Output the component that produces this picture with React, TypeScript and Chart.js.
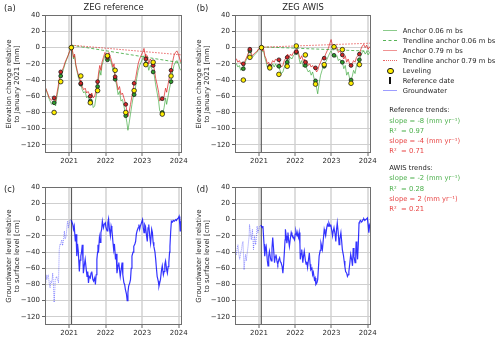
import React, { useEffect, useRef } from 'react';
import { Chart, registerables } from 'chart.js';

Chart.register(...registerables);

const FONT = "'DejaVu Sans', 'Liberation Sans', sans-serif";

// ---------- axes ----------
const xMin = 2020.34;
const xMax = 2024.09;
const yMin = -130;
const yMax = 40;
const referenceDate = 2021.065;
const yearTicks = [2021, 2022, 2023, 2024];
const levelTicks = [-120, -100, -80, -60, -40, -20, 0, 20, 40];

// ---------- panel (a) ZEG reference ----------
const anchorTimesA = [2020.34, 2020.40, 2020.46, 2020.52, 2020.56, 2020.59, 2020.63, 2020.66, 2020.70, 2020.74, 2020.77, 2020.81, 2020.85, 2020.89, 2020.93, 2020.97, 2021.01, 2021.06, 2021.09, 2021.12, 2021.15, 2021.18, 2021.22, 2021.26, 2021.30, 2021.32, 2021.36, 2021.40, 2021.44, 2021.48, 2021.52, 2021.56, 2021.58, 2021.62, 2021.66, 2021.70, 2021.74, 2021.78, 2021.81, 2021.84, 2021.87, 2021.90, 2021.94, 2021.98, 2022.02, 2022.05, 2022.09, 2022.12, 2022.16, 2022.20, 2022.23, 2022.26, 2022.30, 2022.34, 2022.38, 2022.42, 2022.46, 2022.50, 2022.55, 2022.58, 2022.61, 2022.64, 2022.68, 2022.72, 2022.75, 2022.78, 2022.82, 2022.85, 2022.89, 2022.93, 2022.97, 2023.01, 2023.05, 2023.08, 2023.10, 2023.14, 2023.18, 2023.22, 2023.26, 2023.30, 2023.33, 2023.37, 2023.41, 2023.45, 2023.48, 2023.52, 2023.56, 2023.60, 2023.64, 2023.67, 2023.71, 2023.75, 2023.79, 2023.83, 2023.87, 2023.91, 2023.95, 2023.99, 2024.03, 2024.06, 2024.09];
const anchorDeepA = [-48, -55, -62, -65, -63, -62, -66, -58, -48, -36, -30, -28, -24, -18, -14, -10, -5, 0, -3, -12, -8, -20, -28, -35, -40, -44, -48, -52, -50, -56, -54, -58, -60, -56, -62, -60, -52, -42, -30, -22, -28, -18, -12, -6, -8, -12, -6, -10, -16, -24, -20, -36, -42, -52, -48, -58, -56, -62, -70, -78, -85, -80, -70, -60, -52, -44, -38, -30, -20, -14, -10, -6, -1, -8, -14, -10, -20, -14, -17, -22, -26, -38, -46, -55, -66, -63, -65, -60, -50, -55, -45, -35, -28, -18, -10, -6, -4, -8, -14, -18, -17];
const anchorShallowA = [-48, -56, -64, -70, -68, -68, -72, -62, -52, -40, -35, -32, -26, -20, -15, -10, -5, 0, -4, -14, -10, -22, -30, -38, -42, -45, -52, -56, -54, -62, -60, -66, -66, -64, -74, -72, -60, -48, -36, -28, -34, -22, -16, -10, -12, -15, -10, -14, -20, -28, -24, -39, -46, -58, -54, -66, -64, -72, -84, -92, -102, -94, -82, -70, -62, -58, -48, -38, -28, -22, -18, -14, -10, -16, -20, -18, -28, -22, -26, -30, -34, -46, -56, -66, -78, -80, -82, -74, -62, -70, -60, -50, -42, -30, -22, -18, -16, -20, -26, -28, -27];
const levelingTimesA = [2020.59, 2020.77, 2021.06, 2021.32, 2021.58, 2021.78, 2022.05, 2022.26, 2022.55, 2022.78, 2023.10, 2023.30, 2023.55, 2023.79];
const levelingA = [-80, -42, 0, -35, -68, -53, -10, -28, -80, -53, -21, -18, -82, -35];
const deepAtLevelingA = [-62, -30, 0, -44, -60, -42, -12, -36, -70, -44, -14, -22, -63, -28];
const shallowAtLevelingA = [-68, -35, 0, -45, -66, -48, -15, -39, -84, -58, -20, -30, -80, -42];
const trendTimes = [2021.065, 2024.09];
const trendShallowA = [3, -19];
const trendDeepA = [3, -9];

// ---------- panel (b) ZEG AWIS ----------
const anchorTimesB = [2020.34, 2020.38, 2020.42, 2020.46, 2020.50, 2020.54, 2020.57, 2020.61, 2020.64, 2020.68, 2020.72, 2020.75, 2020.78, 2020.82, 2020.86, 2020.90, 2020.94, 2020.98, 2021.02, 2021.07, 2021.10, 2021.13, 2021.16, 2021.20, 2021.23, 2021.27, 2021.30, 2021.34, 2021.38, 2021.42, 2021.46, 2021.50, 2021.55, 2021.58, 2021.62, 2021.66, 2021.70, 2021.75, 2021.79, 2021.83, 2021.87, 2021.91, 2021.95, 2021.99, 2022.03, 2022.06, 2022.10, 2022.14, 2022.18, 2022.22, 2022.26, 2022.28, 2022.32, 2022.36, 2022.40, 2022.44, 2022.48, 2022.52, 2022.55, 2022.59, 2022.62, 2022.66, 2022.70, 2022.74, 2022.77, 2022.80, 2022.84, 2022.88, 2022.92, 2022.96, 2022.99, 2023.02, 2023.05, 2023.07, 2023.11, 2023.15, 2023.19, 2023.23, 2023.27, 2023.30, 2023.34, 2023.38, 2023.42, 2023.46, 2023.50, 2023.53, 2023.57, 2023.61, 2023.65, 2023.69, 2023.73, 2023.77, 2023.81, 2023.85, 2023.89, 2023.93, 2023.97, 2024.01, 2024.05, 2024.09];
const anchorDeepB = [-15, -14, -18, -16, -20, -18, -20, -17, -14, -10, -5, -2, -6, -10, -8, -6, -5, -2, -1, 0, -4, -2, -10, -14, -20, -18, -23, -20, -16, -18, -14, -16, -15, -20, -24, -22, -16, -12, -8, -12, -8, -10, -6, -4, -5, -2, -8, -14, -10, -16, -14, -18, -16, -22, -20, -24, -22, -26, -25, -30, -28, -22, -18, -14, -12, -13, -8, -4, 0, 6, 10, 4, 2, 1, -2, 0, -6, -4, -8, -9, -14, -10, -18, -14, -20, -22, -20, -16, -18, -12, -10, -8, -2, 2, 4, 0, 3, -2, 1, -1];
const anchorShallowB = [-18, -20, -24, -22, -28, -24, -26, -20, -16, -12, -6, -4, -8, -12, -10, -8, -6, -3, -1, 0, -5, -4, -12, -18, -24, -22, -24, -24, -20, -24, -20, -24, -23, -28, -32, -30, -24, -18, -14, -16, -12, -14, -10, -8, -6, -4, -12, -20, -16, -24, -20, -22, -26, -30, -28, -34, -30, -38, -41, -50, -57, -44, -34, -28, -24, -23, -18, -14, -10, -6, -4, -8, -10, -9.5, -12, -10, -16, -14, -18, -18, -26, -22, -34, -30, -38, -40, -36, -28, -32, -22, -18, -15, -10, -6, -4, -8, -5, -9, -6, -7];
const levelingTimesB = [2020.57, 2020.75, 2021.07, 2021.30, 2021.55, 2021.78, 2022.03, 2022.28, 2022.56, 2022.80, 2023.07, 2023.30, 2023.54, 2023.77];
const levelingB = [-40, -12, 0, -25, -33, -23, 2, -9, -45, -21, 1, -2.5, -44, -21];
const deepAtLevelingB = [-20, -2, 0, -23, -15, -12, -5, -18, -25, -13, 1, -9, -22, -8];
const shallowAtLevelingB = [-26, -4, 0, -24, -23, -18, -6, -22, -41, -23, -9.5, -18, -40, -15];
const trendShallowB = [1, -4.5];
const trendDeepB = [0.5, 5.5];

// ---------- panel (c) groundwater, reference site [time, cm] ----------
const groundwaterBeforeC: [number, number][] = [[2020.34, -72], [2020.36, -78], [2020.37, -68], [2020.39, -74], [2020.41, -70], [2020.43, -68], [2020.45, -76], [2020.46, -80], [2020.48, -84], [2020.50, -76], [2020.52, -78], [2020.54, -72], [2020.55, -66], [2020.57, -80], [2020.59, -102], [2020.61, -86], [2020.62, -74], [2020.64, -72], [2020.66, -70], [2020.68, -74], [2020.70, -76], [2020.71, -78], [2020.73, -37], [2020.75, -30], [2020.77, -31], [2020.78, -28], [2020.80, -25], [2020.82, -32], [2020.84, -27], [2020.86, -20], [2020.87, -14], [2020.89, -24], [2020.91, -22], [2020.93, -15], [2020.94, -8], [2020.96, -2], [2020.98, -10], [2021.00, -6], [2021.03, 0], [2021.06, -1]];
const groundwaterAfterC: [number, number][] = [[2021.06, -1], [2021.07, -2], [2021.10, -6], [2021.12, -12], [2021.14, -8], [2021.17, -27], [2021.19, -18], [2021.21, -45], [2021.23, -30], [2021.25, -38], [2021.28, -64], [2021.30, -50], [2021.32, -45], [2021.34, -40], [2021.36, -31], [2021.38, -50], [2021.39, -66], [2021.42, -55], [2021.44, -49], [2021.47, -62], [2021.49, -70], [2021.51, -64], [2021.53, -78], [2021.55, -70], [2021.58, -72], [2021.60, -66], [2021.62, -64], [2021.65, -74], [2021.67, -76], [2021.70, -72], [2021.72, -80], [2021.74, -68], [2021.76, -49], [2021.78, -40], [2021.79, -31], [2021.81, -36], [2021.83, -22], [2021.85, -28], [2021.87, -16], [2021.89, -12], [2021.91, -2], [2021.94, -10], [2021.96, -6], [2021.99, -4], [2022.01, -10], [2022.04, -14], [2022.06, -4], [2022.08, 1], [2022.10, -10], [2022.13, -20], [2022.15, -8], [2022.17, -12], [2022.20, -28], [2022.22, -37], [2022.24, -30], [2022.27, -49], [2022.29, -42], [2022.31, -66], [2022.34, -56], [2022.36, -53], [2022.38, -62], [2022.40, -70], [2022.43, -60], [2022.45, -53], [2022.47, -68], [2022.50, -78], [2022.52, -80], [2022.54, -86], [2022.57, -92], [2022.59, -100], [2022.61, -90], [2022.63, -82], [2022.66, -78], [2022.68, -74], [2022.70, -60], [2022.72, -45], [2022.75, -40], [2022.77, -33], [2022.80, -30], [2022.82, -27], [2022.84, -18], [2022.86, -14], [2022.89, -10], [2022.91, -6], [2022.93, -12], [2022.95, -8], [2022.98, -4], [2023.01, 0], [2023.03, -10], [2023.05, -16], [2023.07, -6], [2023.09, -8], [2023.12, -20], [2023.14, -27], [2023.16, -10], [2023.18, -6], [2023.21, -22], [2023.23, -29], [2023.26, -12], [2023.28, -16], [2023.30, -28], [2023.32, -33], [2023.35, -40], [2023.37, -49], [2023.39, -60], [2023.41, -70], [2023.44, -76], [2023.46, -82], [2023.48, -78], [2023.50, -74], [2023.53, -62], [2023.55, -57], [2023.58, -68], [2023.60, -64], [2023.62, -55], [2023.64, -51], [2023.67, -62], [2023.69, -66], [2023.71, -58], [2023.73, -53], [2023.75, -40], [2023.76, -33], [2023.78, -15], [2023.80, -2], [2023.83, -3], [2023.85, -1], [2023.88, -2], [2023.92, 0], [2023.94, -1], [2023.96, 1], [2023.99, 2], [2024.01, 4], [2024.03, -6], [2024.04, -14], [2024.06, -4], [2024.08, -6]];

// ---------- panel (d) groundwater, AWIS site [time, cm] ----------
const groundwaterBeforeD: [number, number][] = [[2020.33, -33], [2020.35, -38], [2020.38, -43], [2020.40, -36], [2020.42, -31], [2020.45, -44], [2020.47, -49], [2020.50, -40], [2020.52, -37], [2020.54, -30], [2020.56, -27], [2020.59, -62], [2020.61, -50], [2020.63, -43], [2020.65, -51], [2020.68, -40], [2020.70, -33], [2020.73, -20], [2020.74, -6], [2020.77, -18], [2020.79, -25], [2020.82, -12], [2020.85, -37], [2020.88, -20], [2020.91, -31], [2020.93, -22], [2020.95, -8], [2020.97, -16], [2021.00, -12], [2021.02, -8], [2021.06, -7]];
const groundwaterAfterD: [number, number][] = [[2021.06, -7], [2021.09, -10], [2021.11, -8], [2021.14, -30], [2021.16, -45], [2021.18, -36], [2021.20, -33], [2021.23, -50], [2021.25, -57], [2021.27, -45], [2021.29, -39], [2021.32, -48], [2021.34, -51], [2021.36, -35], [2021.38, -22], [2021.41, -40], [2021.43, -53], [2021.45, -46], [2021.47, -43], [2021.50, -52], [2021.52, -55], [2021.55, -49], [2021.57, -47], [2021.59, -52], [2021.61, -53], [2021.64, -58], [2021.66, -66], [2021.68, -55], [2021.70, -41], [2021.72, -25], [2021.73, -12], [2021.75, -20], [2021.77, -29], [2021.79, -22], [2021.80, -16], [2021.82, -26], [2021.84, -33], [2021.87, -22], [2021.89, -16], [2021.91, -19], [2021.93, -20], [2021.96, -23], [2021.98, -25], [2022.00, -18], [2022.02, -14], [2022.05, -20], [2022.07, -18], [2022.09, -22], [2022.11, -16], [2022.13, -30], [2022.14, -49], [2022.16, -42], [2022.18, -37], [2022.21, -53], [2022.23, -45], [2022.25, -39], [2022.28, -50], [2022.30, -55], [2022.32, -52], [2022.34, -59], [2022.37, -48], [2022.39, -41], [2022.41, -55], [2022.43, -62], [2022.46, -60], [2022.48, -68], [2022.50, -65], [2022.53, -74], [2022.55, -72], [2022.57, -80], [2022.60, -78], [2022.62, -74], [2022.64, -60], [2022.66, -45], [2022.69, -38], [2022.71, -29], [2022.73, -33], [2022.75, -37], [2022.78, -22], [2022.80, -12], [2022.82, -16], [2022.84, -20], [2022.87, -10], [2022.89, -6], [2022.91, -8], [2022.93, -4], [2022.96, -8], [2022.98, -6], [2023.01, -14], [2023.03, -20], [2023.05, -14], [2023.07, -10], [2023.10, -18], [2023.12, -27], [2023.14, -12], [2023.16, -4], [2023.19, -18], [2023.21, -31], [2023.23, -24], [2023.26, -16], [2023.28, -26], [2023.30, -37], [2023.33, -44], [2023.35, -51], [2023.37, -58], [2023.39, -64], [2023.42, -66], [2023.44, -70], [2023.46, -68], [2023.48, -64], [2023.51, -52], [2023.53, -43], [2023.56, -50], [2023.58, -57], [2023.60, -35], [2023.62, -45], [2023.65, -53], [2023.67, -40], [2023.68, -27], [2023.70, -38], [2023.72, -49], [2023.74, -30], [2023.76, -4], [2023.78, -2], [2023.80, -1], [2023.83, -3], [2023.85, -2], [2023.87, 0], [2023.89, 1], [2023.92, -1], [2023.94, 0], [2023.97, 1], [2023.99, 2], [2024.01, -6], [2024.03, -16], [2024.05, -8], [2024.07, -4]];

// ---------- legend / trend text ----------
const legendLabels = ['Anchor 0.06 m bs', 'Trendline anchor 0.06 m bs', 'Anchor 0.79 m bs', 'Trendline anchor 0.79 m bs', 'Leveling', 'Reference date', 'Groundwater'];
const referenceSlopes = [-8, -4];
const referenceR2 = [0.97, 0.71];
const awisSlopes = [-2, 2];
const awisR2 = [0.28, 0.21];

// ---------- colours ----------
const GREEN_LINE = 'rgba(44,160,44,0.6)';
const RED_LINE = 'rgba(220,30,30,0.7)';
const GREEN_TREND = 'rgba(44,160,44,0.75)';
const RED_TREND = 'rgba(225,50,50,0.75)';
const GREEN_MARK = '#2ca02c';
const RED_MARK = '#d62728';
const YELLOW = '#ffee00';
const GREEN_TEXT = '#4cb04c';
const RED_TEXT = '#e84545';

const pts = (t: number[], v: number[]) => t.map((x, i) => ({ x, y: v[i] }));
const pairs = (p: [number, number][]) => p.map(([x, y]) => ({ x, y }));

const lineDs = (data: any[], color: string, width: number, dash: number[] = []) => ({
  data, showLine: true, borderColor: color, backgroundColor: color, borderWidth: width,
  borderDash: dash, pointRadius: 0, pointHoverRadius: 0, fill: false, tension: 0,
});
const markDs = (data: any[], fill: string, r: number) => ({
  data, showLine: false, pointRadius: r, pointHoverRadius: r, backgroundColor: fill,
  borderColor: '#1a1a1a', pointBackgroundColor: fill, pointBorderColor: '#1a1a1a', pointBorderWidth: 0.8,
});

const framePlugin = {
  id: 'frameAndReference',
  beforeDatasetsDraw(chart: any) {
    const { ctx, chartArea } = chart;
    const x = chart.scales.x.getPixelForValue(referenceDate);
    ctx.save();
    ctx.strokeStyle = '#5a5a5a';
    ctx.lineWidth = 1.2;
    ctx.beginPath();
    ctx.moveTo(x, chartArea.top);
    ctx.lineTo(x, chartArea.bottom);
    ctx.stroke();
    ctx.restore();
  },
  afterDatasetsDraw(chart: any) {
    const { ctx, chartArea } = chart;
    ctx.save();
    ctx.strokeStyle = '#6e6e6e';
    ctx.lineWidth = 1;
    ctx.strokeRect(Math.round(chartArea.left) + 0.5, Math.round(chartArea.top) + 0.5,
      Math.round(chartArea.right - chartArea.left) - 1, Math.round(chartArea.bottom - chartArea.top) - 1);
    ctx.restore();
  },
};

const tickFont = { family: FONT, size: 7 };

function makeConfig(datasets: any[], yTitle: string[]) {
  return {
    type: 'scatter',
    data: { datasets },
    plugins: [framePlugin],
    options: {
      responsive: false,
      animation: false,
      events: [],
      layout: { padding: { top: 6, right: 8, left: 0, bottom: 0 } },
      plugins: { legend: { display: false }, tooltip: { enabled: false }, title: { display: false } },
      scales: {
        x: {
          type: 'linear', min: xMin, max: xMax,
          afterFit: (s: any) => { s.height = 14; },
          afterBuildTicks: (s: any) => { s.ticks = yearTicks.map((value) => ({ value })); },
          ticks: { font: tickFont, color: '#262626', padding: 1, maxRotation: 0, autoSkip: false, callback: (v: any) => String(v) },
          grid: { color: '#dddddd', lineWidth: 2, tickLength: 3, tickColor: '#666', tickWidth: 1 },
          border: { display: false },
        },
        y: {
          type: 'linear', min: yMin, max: yMax,
          afterFit: (s: any) => { s.width = 45; },
          afterBuildTicks: (s: any) => { s.ticks = levelTicks.map((value) => ({ value })); },
          ticks: { font: tickFont, color: '#262626', padding: 2, callback: (v: any) => (v < 0 ? '\u2212' + Math.abs(v) : String(v)) },
          grid: { color: '#cfcfcf', lineWidth: 1, tickLength: 3, tickColor: '#666', tickWidth: 1 },
          border: { display: false },
          title: { display: true, text: yTitle, font: { family: FONT, size: 7 }, color: '#262626', padding: { top: 5, bottom: 0 } },
        },
      },
    },
  };
}

const elevTitle = ['Elevation change relative', 'to January 2021 [mm]'];
const gwTitle = ['Groundwater level relative', 'to surface level [cm]'];

function elevationConfig(times: number[], deep: number[], shallow: number[], levT: number[], lev: number[], deepLev: number[], shallowLev: number[], trendShallow: number[], trendDeep: number[]) {
  return makeConfig([
    markDs(pts(levT, lev), YELLOW, 2.3),
    markDs(pts(levT, deepLev), RED_MARK, 1.9),
    markDs(pts(levT, shallowLev), GREEN_MARK, 1.9),
    lineDs(pts(trendTimes, trendDeep), RED_TREND, 1, [1.5, 1.5]),
    lineDs(pts(trendTimes, trendShallow), GREEN_TREND, 1, [3, 2]),
    lineDs(pts(times, deep), RED_LINE, 1),
    lineDs(pts(times, shallow), GREEN_LINE, 1),
  ], elevTitle);
}

function groundwaterConfig(before: [number, number][], after: [number, number][]) {
  return makeConfig([
    lineDs(pairs(after), 'rgba(0,0,255,0.8)', 1.2),
    lineDs(pairs(before), 'rgba(0,0,255,0.45)', 1, [1, 1]),
  ], gwTitle);
}

function Panel({ left, top, width, height, build }: { left: number; top: number; width: number; height: number; build: () => any }) {
  const ref = useRef<HTMLCanvasElement | null>(null);
  useEffect(() => {
    const chart = new Chart(ref.current as HTMLCanvasElement, build());
    return () => chart.destroy();
  }, []);
  return <canvas ref={ref} width={width} height={height} style={{ position: 'absolute', left, top, width, height }} />;
}

const abs = (left: number, top: number, extra: any = {}) => ({ position: 'absolute' as const, left, top, whiteSpace: 'pre' as const, lineHeight: 1, ...extra });

function Txt({ x, y, children, color = '#262626', size = 6.8, center = false }: any) {
  return (
    <div style={abs(x, y, { color, fontSize: size, transform: center ? 'translate(-50%,-50%)' : 'translate(0,-50%)' })}>{children}</div>
  );
}

const fmtSlope = (s: number) => `slope = ${s} (mm yr\u207B\u00B9)`;
const fmtR2 = (r: number) => `R\u00B2  = ${r.toFixed(2)}`;

export default function App() {
  const legendX = 402.7;
  const rowY = (i: number) => 30.7 + i * 10;
  const sample = (i: number, color: string, style: string, w = 1.5) => (
    <div style={abs(383, rowY(i) - w / 2, { width: 14, height: 0, borderTop: `${w}px ${style} ${color}` })} />
  );
  return (
    <div style={{ position: 'absolute', left: 0, top: 0, width: 500, height: 339, background: '#fff', fontFamily: FONT, overflow: 'hidden' }}>
      <Panel left={0} top={9} width={190} height={158} build={() => elevationConfig(anchorTimesA, anchorDeepA, anchorShallowA, levelingTimesA, levelingA, deepAtLevelingA, shallowAtLevelingA, trendShallowA, trendDeepA)} />
      <Panel left={190} top={9} width={189} height={158} build={() => elevationConfig(anchorTimesB, anchorDeepB, anchorShallowB, levelingTimesB, levelingB, deepAtLevelingB, shallowAtLevelingB, trendShallowB, trendDeepB)} />
      <Panel left={0} top={181} width={190} height={158} build={() => groundwaterConfig(groundwaterBeforeC, groundwaterAfterC)} />
      <Panel left={190} top={181} width={189} height={158} build={() => groundwaterConfig(groundwaterBeforeD, groundwaterAfterD)} />

      <Txt x={4} y={7.5} size={8.4}>(a)</Txt>
      <Txt x={196.5} y={7.5} size={8.4}>(b)</Txt>
      <Txt x={4} y={189} size={8.4}>(c)</Txt>
      <Txt x={196.5} y={189} size={8.4}>(d)</Txt>
      <Txt x={113.5} y={7.3} size={8.4} center>ZEG reference</Txt>
      <Txt x={303} y={7.3} size={8.4} center>ZEG AWIS</Txt>

      {sample(0, 'rgba(44,160,44,0.55)', 'solid')}
      {sample(1, 'rgba(44,160,44,0.8)', 'dashed', 1.2)}
      {sample(2, 'rgba(225,40,40,0.5)', 'solid')}
      {sample(3, 'rgba(225,50,50,0.75)', 'dotted', 1.2)}
      <div style={abs(387, rowY(4) - 3.1, { width: 4.6, height: 4.6, borderRadius: '50%', background: YELLOW, border: '0.8px solid #1a1a1a' })} />
      <div style={abs(389.4, rowY(5) - 3.5, { width: 1.2, height: 7, background: '#111' })} />
      {sample(6, 'rgba(60,60,255,0.5)', 'solid')}
      {legendLabels.map((l, i) => <Txt key={l} x={legendX} y={rowY(i)}>{l}</Txt>)}

      <Txt x={389.3} y={110}>Reference trends:</Txt>
      <Txt x={389.3} y={120.5} color={GREEN_TEXT}>{fmtSlope(referenceSlopes[0])}</Txt>
      <Txt x={389.3} y={130.7} color={GREEN_TEXT}>{fmtR2(referenceR2[0])}</Txt>
      <Txt x={389.3} y={140.7} color={RED_TEXT}>{fmtSlope(referenceSlopes[1])}</Txt>
      <Txt x={389.3} y={150.7} color={RED_TEXT}>{fmtR2(referenceR2[1])}</Txt>

      <Txt x={389.3} y={168.3}>AWIS trends:</Txt>
      <Txt x={389.3} y={178.3} color={GREEN_TEXT}>{fmtSlope(awisSlopes[0])}</Txt>
      <Txt x={389.3} y={188.5} color={GREEN_TEXT}>{fmtR2(awisR2[0])}</Txt>
      <Txt x={389.3} y={199} color={RED_TEXT}>{fmtSlope(awisSlopes[1])}</Txt>
      <Txt x={389.3} y={209.3} color={RED_TEXT}>{fmtR2(awisR2[1])}</Txt>
    </div>
  );
}
